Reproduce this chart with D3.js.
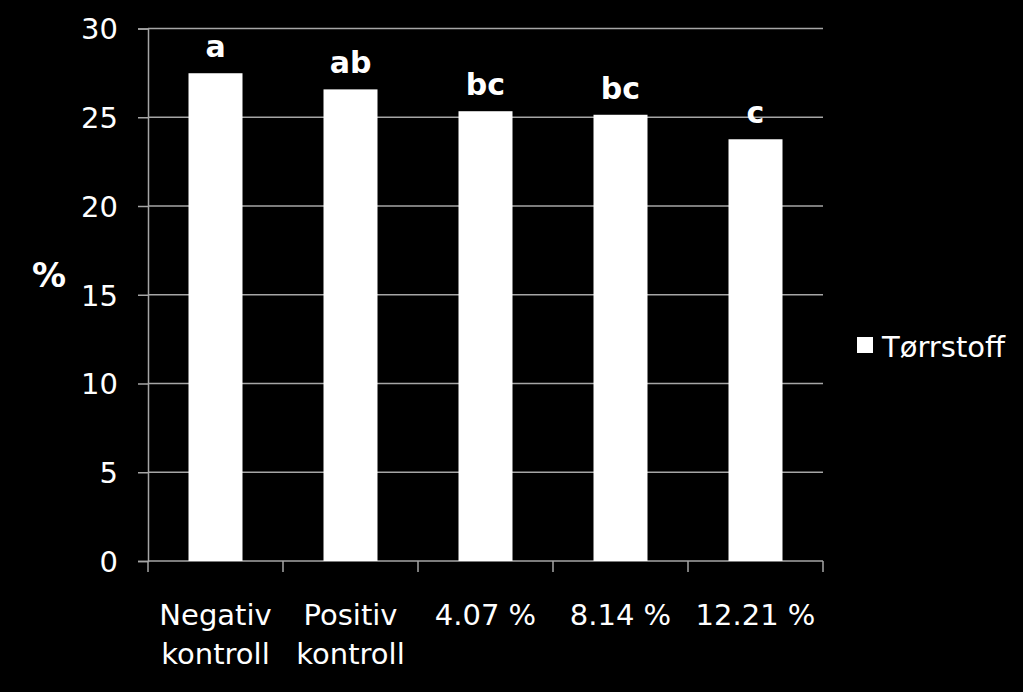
<!DOCTYPE html>
<html><head><meta charset="utf-8">
<script src="https://cdn.jsdelivr.net/npm/d3@7"></script>
<style>html,body{margin:0;padding:0;background:#000;}svg{display:block;}</style>
</head><body>
<script>
const categories = [["Negativ","kontroll"],["Positiv","kontroll"],["4.07 %"],["8.14 %"],["12.21 %"]];
const values = [27.48, 26.57, 25.34, 25.14, 23.76];
const letters = ["a","ab","bc","bc","c"];
const yTicks = [0,5,10,15,20,25,30];
const seriesName = "Tørrstoff";

const W=1023,H=692;
const svg=d3.select("body").append("svg").attr("width",W).attr("height",H).style("background","#000");
const L=148,R=823,T=28.5,B=561;
const font="DejaVu Sans, Verdana, sans-serif";
const x=d3.scaleBand().domain(d3.range(categories.length)).range([L,R]).paddingInner(0.6).paddingOuter(0.3);
const y=d3.scaleLinear().domain([0,30]).range([B,T]);
const grid="#a6a6a6";

// gridlines + y ticks
const yAxis=svg.append("g").attr("transform",`translate(${L},0)`)
  .call(d3.axisLeft(y).tickValues(yTicks).tickSize(10).tickPadding(20).tickFormat(d3.format("d")));
yAxis.select(".domain").attr("stroke",grid).attr("stroke-width",1.5);
yAxis.selectAll(".tick line").attr("stroke",grid).attr("stroke-width",1.5);
yAxis.selectAll(".tick text").attr("fill","#fff").attr("font-family",font).attr("font-size",29).attr("dy","0.36em");
svg.append("g").selectAll("line").data(yTicks).join("line")
  .attr("x1",L).attr("x2",R).attr("y1",d=>y(d)).attr("y2",d=>y(d))
  .attr("stroke",grid).attr("stroke-width",1.5);

// x axis ticks at category boundaries
const bounds=d3.range(categories.length+1).map(i=>L+i*x.step());
svg.append("g").selectAll("line").data(bounds).join("line")
  .attr("x1",d=>d).attr("x2",d=>d).attr("y1",B).attr("y2",B+11)
  .attr("stroke",grid).attr("stroke-width",1.5);

// bars
svg.append("g").selectAll("rect").data(values).join("rect")
  .attr("x",(d,i)=>x(i)).attr("width",x.bandwidth())
  .attr("y",d=>y(d)).attr("height",d=>B-y(d)).attr("fill","#fff");

// letters
svg.append("g").selectAll("text").data(letters).join("text")
  .attr("x",(d,i)=>x(i)+x.bandwidth()/2).attr("y",(d,i)=>y(values[i])-16)
  .attr("text-anchor","middle").attr("fill","#fff").attr("font-family",font)
  .attr("font-weight","bold").attr("font-size",30).text(d=>d);

// category labels
const cl=svg.append("g").selectAll("text").data(categories).join("text")
  .attr("text-anchor","middle").attr("fill","#fff").attr("font-family",font).attr("font-size",29)
  .attr("x",(d,i)=>x(i)+x.bandwidth()/2).attr("y",625);
cl.selectAll("tspan").data(d=>d).join("tspan")
  .attr("x",function(){return this.parentNode.getAttribute("x");})
  .attr("dy",(d,j)=>j?39:0).text(d=>d);

// y label
svg.append("text").attr("x",49).attr("y",287).attr("text-anchor","middle").attr("fill","#fff")
  .attr("font-family",font).attr("font-weight","bold").attr("font-size",34).text("%");

// legend
svg.append("rect").attr("x",857).attr("y",337).attr("width",16).attr("height",16).attr("fill","#fff");
svg.append("text").attr("x",882).attr("y",357).attr("fill","#fff").attr("font-family",font)
  .attr("font-size",29).text(seriesName);
</script>
</body></html>
